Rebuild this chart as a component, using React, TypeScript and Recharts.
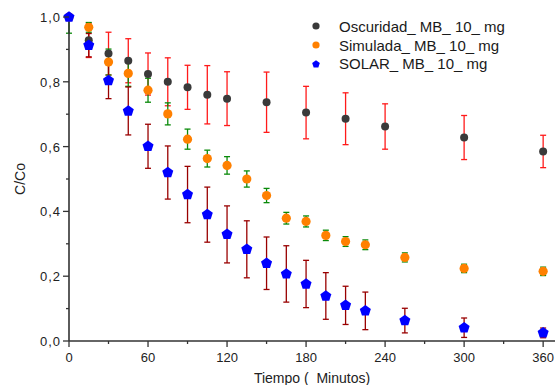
import { ScatterChart, Scatter, XAxis, YAxis, ErrorBar } from "recharts";

// series names
const seriesNames = ["Oscuridad_ MB_ 10_ mg", "Simulada_ MB_ 10_ mg", "SOLAR_ MB_ 10_ mg"];

// Oscuridad (dark)
const darkTimes = [0, 15, 30, 45, 60, 75, 90, 105, 120, 150, 180, 210, 240, 300, 360];
const darkValues = [1.0, 0.928, 0.887, 0.865, 0.824, 0.8, 0.783, 0.76, 0.748, 0.737, 0.705, 0.686, 0.662, 0.628, 0.585];
const darkErrors = [0, 0.053, 0.066, 0.068, 0.065, 0.074, 0.068, 0.09, 0.083, 0.093, 0.081, 0.08, 0.07, 0.068, 0.05];

// Simulada + SOLAR share the same sampling times
const lightTimes = [0, 15, 30, 45, 60, 75, 90, 105, 120, 135, 150, 165, 180, 195, 210, 225, 255, 300, 360];
const simValues = [1.0, 0.968, 0.861, 0.826, 0.774, 0.701, 0.623, 0.563, 0.542, 0.5, 0.449, 0.379, 0.369, 0.326, 0.307, 0.297, 0.258, 0.224, 0.215];
const simErrors = [0.05, 0.015, 0.04, 0.04, 0.037, 0.034, 0.031, 0.026, 0.027, 0.025, 0.022, 0.018, 0.017, 0.016, 0.015, 0.015, 0.014, 0.013, 0.013];
const solarValues = [1.0, 0.913, 0.804, 0.71, 0.601, 0.52, 0.452, 0.39, 0.329, 0.283, 0.24, 0.207, 0.176, 0.139, 0.11, 0.093, 0.063, 0.041, 0.025];
const solarErrors = [0, 0.036, 0.056, 0.074, 0.068, 0.082, 0.087, 0.085, 0.088, 0.088, 0.081, 0.087, 0.073, 0.072, 0.059, 0.058, 0.038, 0.03, 0.015];

// axis ticks (majors labelled, minors in between)
const xTicks = [0, 30, 60, 90, 120, 150, 180, 210, 240, 270, 300, 330, 360];
const yTicks = [0, 0.1, 0.2, 0.3, 0.4, 0.5, 0.6, 0.7, 0.8, 0.9, 1.0];

const build = (times: number[], values: number[], errors: number[]) =>
  times.map((t, i) => {
    const v = values[i];
    const e = errors[i];
    // keep bars inside the 0..1 axis range
    const hi = Math.min(e, 1 - v);
    const lo = Math.min(e, v);
    return { x: t, y: v, err: [lo, hi] };
  });

const darkData = build(darkTimes, darkValues, darkErrors);
const simData = build(lightTimes, simValues, simErrors);
const solarData = build(lightTimes, solarValues, solarErrors);

const FONT = '"Liberation Sans", Arial, sans-serif';
const AXIS = "#333";

const pentagon = (cx: number, cy: number, r: number) =>
  Array.from({ length: 5 }, (_, k) => {
    const a = ((-90 + 72 * k) * Math.PI) / 180;
    return `${cx + r * Math.cos(a)},${cy + r * Math.sin(a)}`;
  }).join(" ");

const DarkDot = (p: any) => <circle cx={p.cx} cy={p.cy} r={4} fill="#3a3a3a" />;
const OrangeDot = (p: any) => <circle cx={p.cx} cy={p.cy} r={4.6} fill="#ff8000" />;
const BlueDot = (p: any) => <polygon points={pentagon(p.cx, p.cy, 5.8)} fill="#0000ff" />;

const YTick = (props: any) => {
  const { x, y, payload } = props;
  const major = Math.round(payload.value * 10) % 2 === 0;
  return (
    <g>
      <line x1={x} x2={x - (major ? 6 : 3)} y1={y} y2={y} stroke={AXIS} strokeWidth={1.3} />
      {major && (
        <text x={x - 8} y={y} dy={5} textAnchor="end" fontSize={13} letterSpacing={1} fill="#222" fontFamily={FONT}>
          {payload.value.toFixed(1).replace(".", ",")}
        </text>
      )}
    </g>
  );
};

const XTick = (props: any) => {
  const { x, y, payload } = props;
  const major = payload.value % 60 === 0;
  return (
    <g>
      <line x1={x} x2={x} y1={y} y2={y + (major ? 6 : 3)} stroke={AXIS} strokeWidth={1.3} />
      {major && (
        <text x={x} y={y + 21} textAnchor="middle" fontSize={13} fill="#222" fontFamily={FONT}>
          {payload.value}
        </text>
      )}
    </g>
  );
};

const legendIcons = [
  <circle cx={6} cy={6} r={3.6} fill="#3a3a3a" />,
  <circle cx={6} cy={6} r={3.6} fill="#ff8000" />,
  <polygon points={pentagon(6, 6.3, 4)} fill="#0000ff" />,
];

export default function App() {
  return (
    <div style={{ position: "absolute", top: 0, left: 0, width: 555, height: 385, background: "#fff" }}>
      <ScatterChart width={555} height={385} margin={{ top: 17, right: 0, bottom: 0, left: 19 }}>
        <XAxis
          type="number"
          dataKey="x"
          domain={[0, 369]}
          ticks={xTicks}
          interval={0}
          height={44}
          tickSize={0}
          tickMargin={0}
          tick={<XTick />}
          axisLine={{ stroke: AXIS, strokeWidth: 1.6 }}
          label={{ value: "Tiempo (\u00a0 Minutos)", position: "insideBottom", offset: 2, fontSize: 14, fill: "#222", fontFamily: FONT }}
        />
        <YAxis
          type="number"
          dataKey="y"
          domain={[0, 1]}
          ticks={yTicks}
          interval={0}
          width={50}
          tickSize={0}
          tickMargin={0}
          tick={<YTick />}
          axisLine={{ stroke: AXIS, strokeWidth: 1.6 }}
          label={{ value: "C/Co", angle: -90, position: "insideLeft", offset: 1, fontSize: 14, fill: "#222", fontFamily: FONT, style: { textAnchor: "middle" } }}
        />
        <Scatter name={seriesNames[0]} data={darkData} shape={DarkDot} isAnimationActive={false}>
          <ErrorBar dataKey="err" direction="y" width={3} stroke="#ff1a1a" strokeWidth={1.3} isAnimationActive={false} />
        </Scatter>
        <Scatter name={seriesNames[1]} data={simData} shape={OrangeDot} isAnimationActive={false}>
          <ErrorBar dataKey="err" direction="y" width={3} stroke="#0a8a0a" strokeWidth={1.3} isAnimationActive={false} />
        </Scatter>
        <Scatter name={seriesNames[2]} data={solarData} shape={BlueDot} isAnimationActive={false}>
          <ErrorBar dataKey="err" direction="y" width={3} stroke="#990000" strokeWidth={1.3} isAnimationActive={false} />
        </Scatter>
      </ScatterChart>
      <div style={{ position: "absolute", left: 310, top: 17, fontFamily: FONT, fontSize: 15, color: "#1a1a1a" }}>
        {seriesNames.map((n, i) => (
          <div key={n} style={{ display: "flex", alignItems: "center", height: 18.7, whiteSpace: "nowrap" }}>
            <svg width={12} height={12} style={{ marginRight: 17 }}>
              {legendIcons[i]}
            </svg>
            <span>{n}</span>
          </div>
        ))}
      </div>
    </div>
  );
}
